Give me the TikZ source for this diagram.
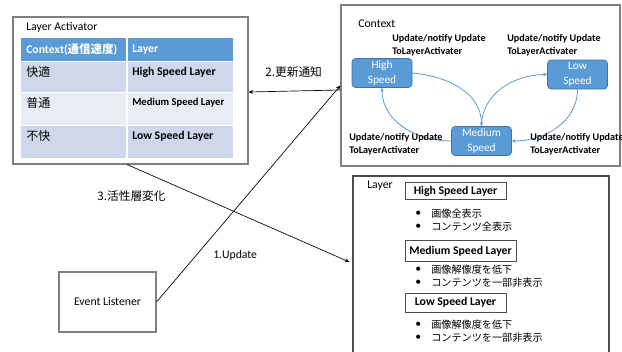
\documentclass[tikz,border=0pt]{standalone}
\usepackage{fontspec}
\setmainfont{Carlito}
\newfontfamily\jp{Noto Sans CJK JP}
\usetikzlibrary{arrows.meta}
\definecolor{hdblue}{HTML}{5B9BD5}
\definecolor{rowdark}{HTML}{CFD8EB}
\definecolor{rowlight}{HTML}{E8ECF5}
\definecolor{stateline}{HTML}{41719C}
\definecolor{framegray}{HTML}{808080}
\def\px{0.75pt}

\begin{document}
\begin{tikzpicture}[x=0.75pt,y=-0.75pt,
  frame/.style={draw=framegray, line width=0.8pt, inner sep=0},
  lbl/.style={anchor=west, inner sep=0, font=\fontsize{8.8}{10}\selectfont},
  jlbl/.style={anchor=west, inner sep=0, font=\jp\fontsize{7.6}{9}\selectfont},
  state/.style={draw=stateline, fill=hdblue, rounded corners=2.5pt, text=white, align=center,
    font=\fontsize{8.5}{11}\selectfont, minimum width=60*\px, minimum height=29*\px, inner sep=0},
  note/.style={anchor=west, inner sep=0, align=left, font=\bfseries\fontsize{7.6}{9.5}\selectfont},
  flow/.style={-{Stealth[length=3pt,width=2.5pt]}, hdblue, line width=0.6pt},
  link/.style={-{Stealth[length=3.5pt,width=3pt]}, black, line width=0.5pt},
  laybox/.style={draw=black!70, line width=0.6pt, font=\bfseries\fontsize{8.8}{10}\selectfont, inner sep=0}]
\useasboundingbox (0,0) rectangle (622,351);
\clip (0,0) rectangle (622,351);

% layer activator with its table
\node[frame, minimum width=235*\px, minimum height=147*\px] (act) at (130.5,90.5) {};
\node[lbl] (acttitle) at (26,27) {Layer Activator};
\fill[hdblue] (21,38) rectangle (233,61);
\node[anchor=west, inner sep=0, text=white, font=\bfseries\fontsize{8.8}{10}\selectfont] (hd1) at (26,49.5) {Context({\jp\fontsize{8.6}{10}\selectfont 通信速度})};
\node[anchor=west, inner sep=0, text=white, font=\bfseries\fontsize{8.8}{10}\selectfont] (hd2) at (132,49.5) {Layer};
\foreach \top/\bot/\shade/\jpc/\lay/\sz [count=\i] in {62/92/rowdark/快適/High Speed Layer/8.8,
    93/125/rowlight/普通/Medium Speed Layer/7.9, 126/158/rowdark/不快/Low Speed Layer/8.8} {
  \fill[\shade] (21,\top) rectangle (233,\bot);
  \node[anchor=west, inner sep=0, font=\jp\fontsize{9}{10}\selectfont] (row\i) at (26,\top+10) {\jpc};
  \node[anchor=west, inner sep=0, font=\bfseries\fontsize{\sz}{10}\selectfont] (lay\i) at (132,\top+10) {\lay};
}
\draw[white, line width=1pt] (127,38) -- (127,158);

% context states
\node[frame, minimum width=279*\px, minimum height=161*\px] (ctx) at (480.5,85.5) {};
\node[lbl] (ctxtitle) at (358,24) {Context};
\node[state] (hi) at (382,73) {High\\Speed};
\node[state] (lo) at (577.5,74.5) {Low\\Speed};
\node[state] (med) at (481.5,141) {Medium\\Speed};
\draw[flow] (hi.east) to[out=-5,in=90] (med.north);
\draw[flow] (med.north) to[out=90,in=180] (lo.west);
\draw[flow] (lo.south) to[out=-90,in=0] (med.east);
\draw[flow] (med.west) to[out=180,in=-90] (hi.south);
\node[note] (n1) at (392,45) {Update/notify Update\\ToLayerActivater};
\node[note] (n2) at (507,45) {Update/notify Update\\ToLayerActivater};
\node[note] (n3) at (349,144) {Update/notify Update\\ToLayerActivater};
\node[note] (n4) at (530,144) {Update/notify Update\\ToLayerActivater};

% layers
\node[draw=black!70, line width=0.8pt, minimum width=256*\px, minimum height=194*\px, inner sep=0] (lay) at (481,273) {};
\node[lbl] (laytitle) at (367,186) {Layer};
\node[laybox, minimum width=101*\px, minimum height=17*\px] (lhi) at (455.5,191) {High Speed Layer};
\node[laybox, minimum width=111*\px, minimum height=21*\px] (lmed) at (460.5,251) {Medium Speed Layer};
\node[laybox, minimum width=101*\px, minimum height=19*\px] (llo) at (455.5,302.5) {Low Speed Layer};
\foreach \y/\txt in {214/画像全表示, 227/コンテンツ全表示, 270/画像解像度を低下,
    283/コンテンツを一部非表示, 325/画像解像度を低下, 338/コンテンツを一部非表示} {
  \node[lbl] (dot\y) at (415,\y) {•};
  \node[jlbl] (item\y) at (431,\y) {\txt};
}

% event listener and links
\node[frame, minimum width=97*\px, minimum height=60*\px, font=\fontsize{8.8}{10}\selectfont] (ev) at (107.5,302) {Event Listener};
\draw[link] (ev.east) -- (ctx.west);
\draw[link] ([yshift=-4.5*\px]ctx.west) -- ([yshift=-1.5*\px]act.east);
\draw[link] ([xshift=-3.5*\px]act.south) -- ([xshift=-3*\px,yshift=11*\px]lay.west);
\node[anchor=west, inner sep=0, font=\jp\fontsize{8.8}{10}\selectfont] (upd2) at (265,72) {2.更新通知};
\node[anchor=west, inner sep=0, font=\jp\fontsize{8.8}{10}\selectfont] (upd3) at (97,196) {3.活性層変化};
\node[lbl] (upd1) at (213,255) {1.Update};
\end{tikzpicture}
\end{document}
